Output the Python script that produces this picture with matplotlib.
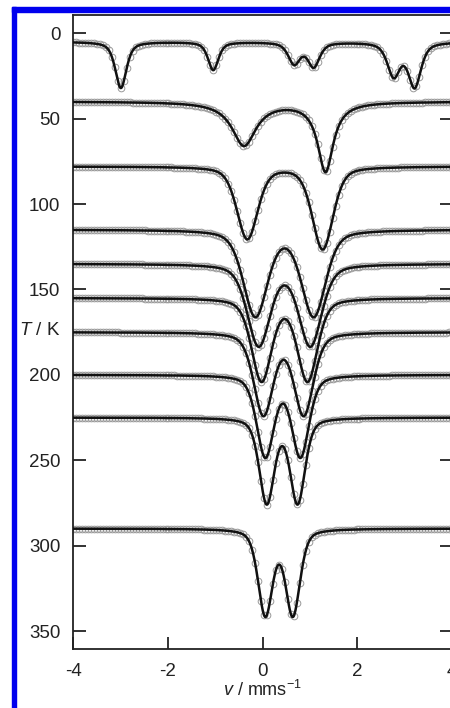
# Mossbauer spectra stacked by temperature (fit lines + data circles)
import numpy as np
import matplotlib
matplotlib.use("Agg")
import matplotlib.pyplot as plt
from matplotlib.patches import Rectangle

plt.rcParams["font.family"] = ["Liberation Sans", "DejaVu Sans"]
plt.rcParams["mathtext.fontset"] = "custom"
plt.rcParams["mathtext.rm"] = "Liberation Sans"
plt.rcParams["mathtext.it"] = "Liberation Sans:italic"

# temperature (K) = baseline of each spectrum
temps = [5, 40, 78, 115, 135, 155, 175, 200, 225, 290]

# line positions (mm/s), depths (in K units of the offset axis), widths (FWHM, mm/s)
centers = [
    [-2.99, -1.04, 0.67, 1.08, 2.77, 3.21],
    [-0.39, 1.33],
    [-0.32, 1.27],
    [-0.15, 1.08],
    [-0.08, 1.01],
    [-0.02, 0.95],
    [0.02, 0.87],
    [0.06, 0.80],
    [0.09, 0.74],
    [0.06, 0.64],
]
depths = [
    [27.0, 16.4, 12.5, 14.1, 19.4, 25.8],
    [25.5, 40.5],
    [42.2, 48.2],
    [50.2, 50.2],
    [47.4, 47.4],
    [48.0, 48.0],
    [47.8, 47.8],
    [47.2, 47.2],
    [49.5, 49.5],
    [50.0, 50.0],
]
fwhms = [
    [0.28, 0.26, 0.30, 0.30, 0.32, 0.32],
    [0.62, 0.40],
    [0.52, 0.52],
    [0.60, 0.60],
    [0.57, 0.57],
    [0.50, 0.50],
    [0.485, 0.485],
    [0.43, 0.43],
    [0.37, 0.37],
    [0.36, 0.36],
]
# lorentzian fraction of the pseudo-voigt line shape
etas = [0.6, 1.0, 0.4, 0.4, 0.4, 0.4, 0.4, 0.4, 0.4, 0.4]

x_ticks = [-4, -2, 0, 2, 4]
y_ticks = [0, 50, 100, 150, 200, 250, 300, 350]


def line_shape(v, c, d, w, eta):
    x = 2 * (v - c) / w
    lor = 1 / (1 + x ** 2)
    gau = np.exp(-np.log(2) * x ** 2)
    return d * (eta * lor + (1 - eta) * gau)


def spectrum(v, i):
    y = np.full_like(v, float(temps[i]))
    for c, d, w in zip(centers[i], depths[i], fwhms[i]):
        y = y + line_shape(v, c, d, w, etas[i])
    return y


fig = plt.figure(figsize=(4.5, 7.08), dpi=100)
ax = fig.add_axes([73 / 450, 59 / 708, 379 / 450, 634 / 708])

v_fit = np.linspace(-4, 4, 800)
v_pts = np.linspace(-4, 4, 128)
for i in range(len(temps)):
    ax.plot(v_pts, spectrum(v_pts, i), "o", mfc="none", mec="#999999",
            ms=4.8, mew=0.7, zorder=2)
    ax.plot(v_fit, spectrum(v_fit, i), color="#111111", lw=1.8, zorder=3)

ax.set_xlim(-4, 4)
ax.set_ylim(360.5, -10.7)
ax.set_xticks(x_ticks)
ax.set_yticks(y_ticks)
ax.set_xticklabels(["-4", "-2", "0", "2", "4"])
ax.tick_params(axis="both", direction="in", length=9, width=1.3,
               labelsize=13.5, colors="#222222")
ax.tick_params(axis="y", right=True, pad=9)
ax.tick_params(axis="x", pad=10)
for s in ax.spines.values():
    s.set_linewidth(1.3)
    s.set_color("#222222")

ax.set_xlabel(r"$v$ / mms$^{\mathregular{-1}}$", fontsize=13, color="#222222",
              labelpad=0)
ax.annotate(r"$T$ / K", xy=(0, 174), xycoords=("axes fraction", "data"),
            xytext=(-9, 0), textcoords="offset points", ha="right",
            va="center", fontsize=13.5, color="#222222")

# blue frame (left and top edges only, rest cropped)
fig.patches.append(Rectangle((12 / 450, 0), 4 / 450, 701 / 708,
                             transform=fig.transFigure, color="#0000ee",
                             zorder=0))
fig.patches.append(Rectangle((12 / 450, 696 / 708), 1, 5 / 708,
                             transform=fig.transFigure, color="#0000ee",
                             zorder=0))

fig.savefig("out.png", dpi=100)
